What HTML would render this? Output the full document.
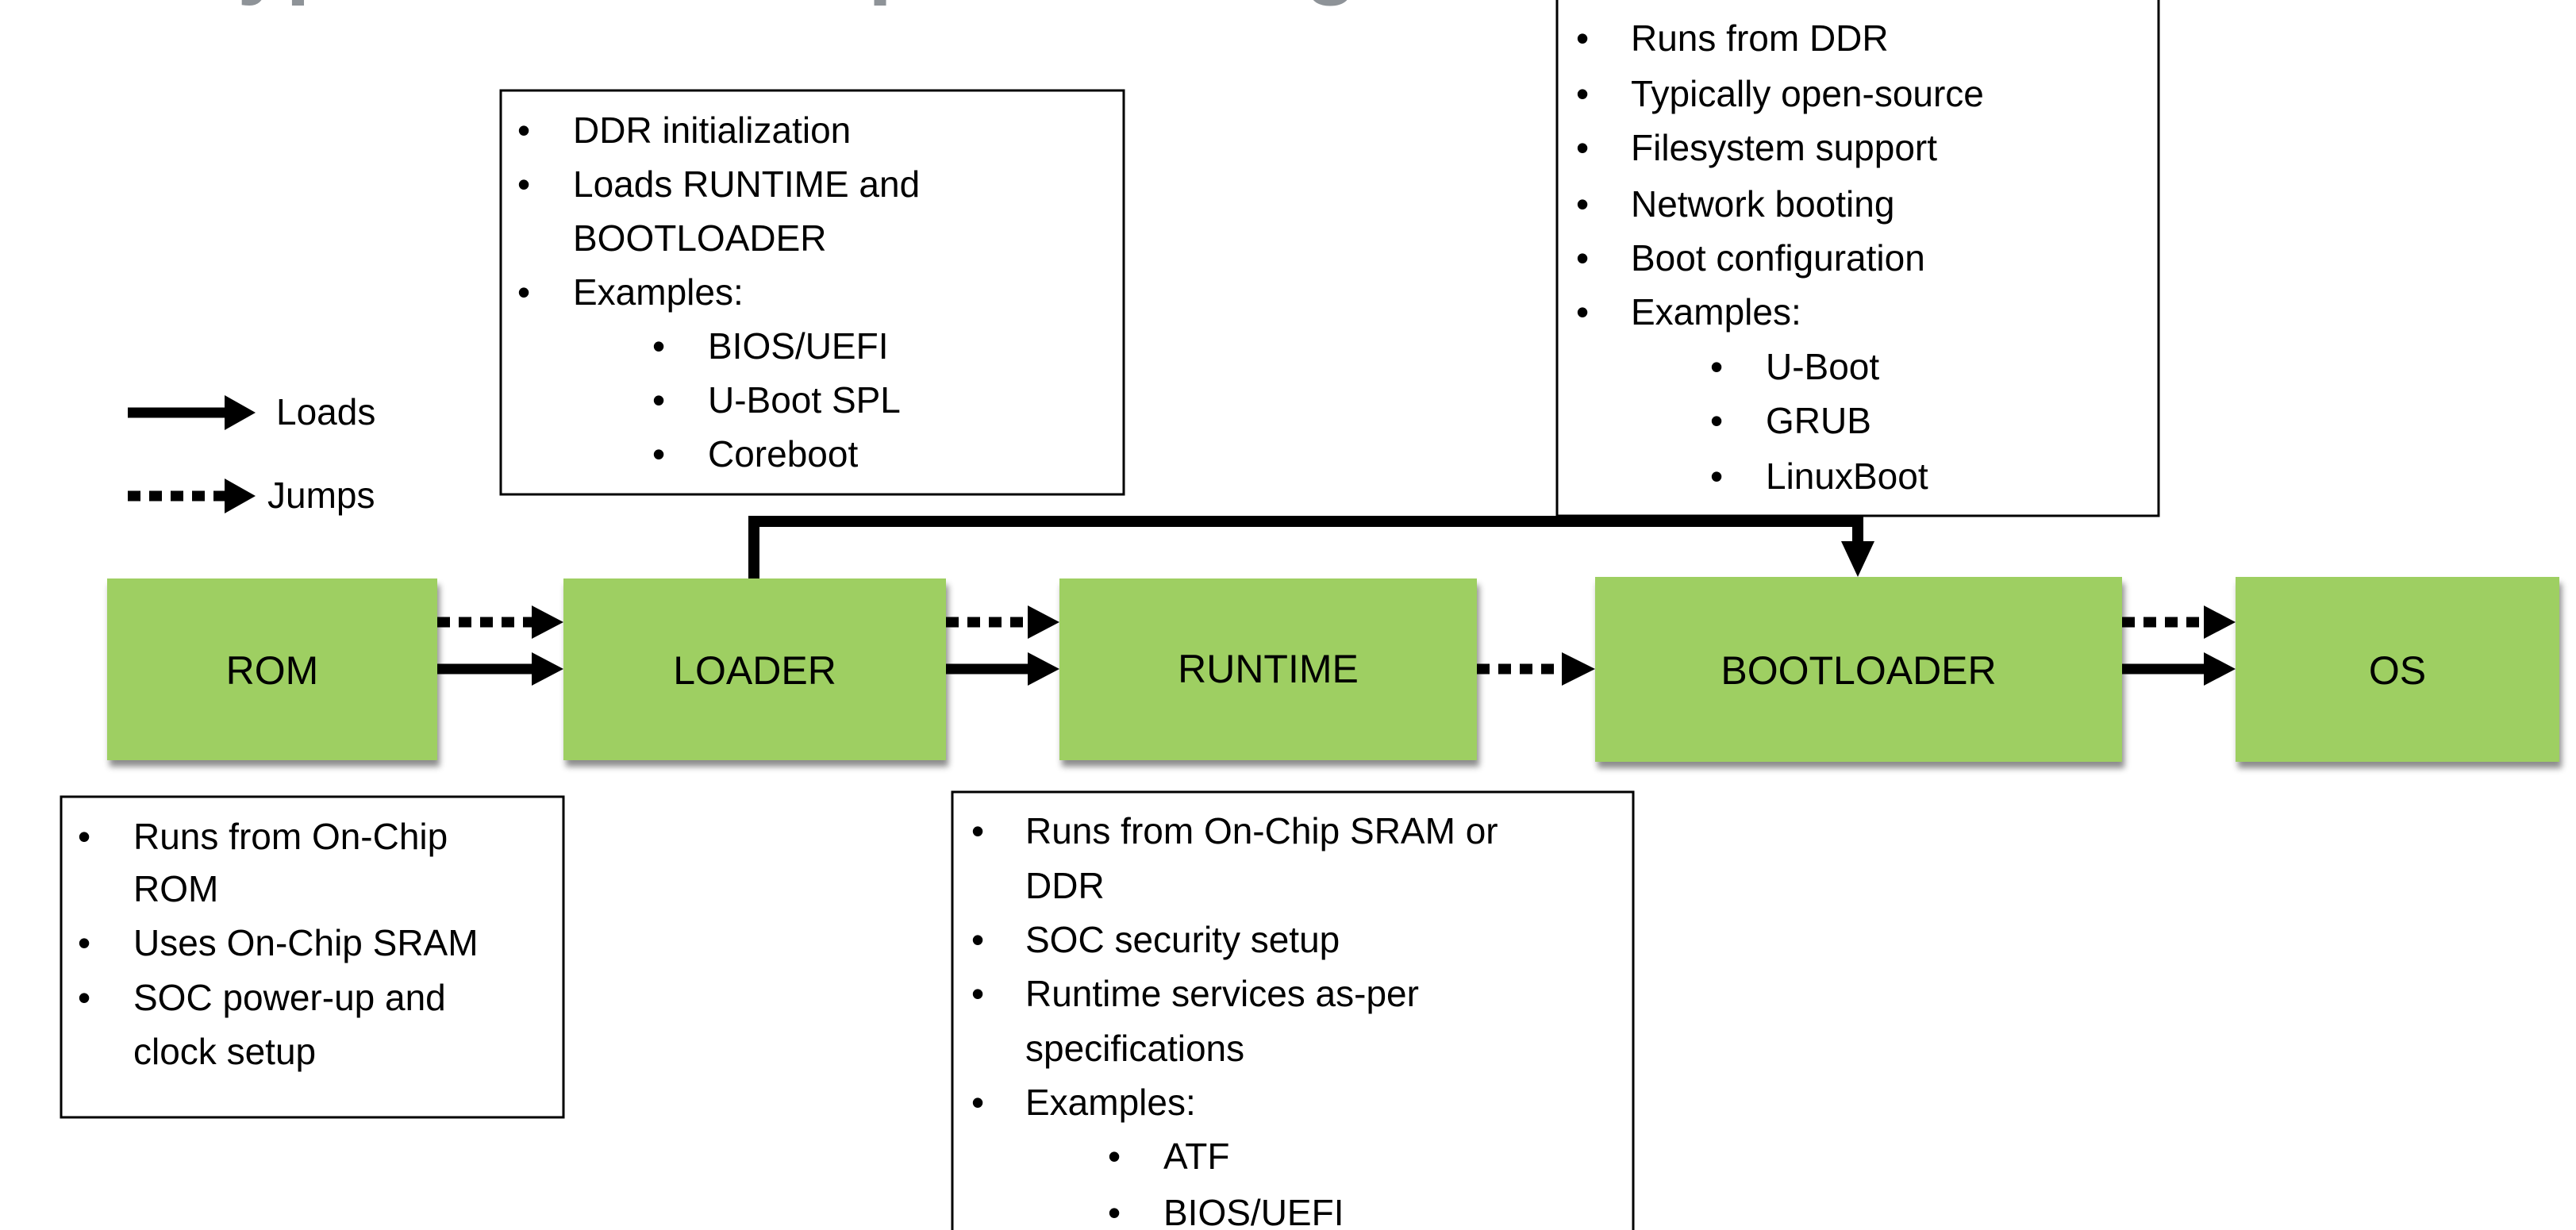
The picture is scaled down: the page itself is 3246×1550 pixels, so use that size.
<!DOCTYPE html>
<html><head><meta charset="utf-8"><style>
html,body{margin:0;padding:0;background:#fff;width:3246px;height:1550px;overflow:hidden}
svg{display:block}
text{font-family:"Liberation Sans",sans-serif;fill:#000}
</style></head><body>
<svg width="3246" height="1550" viewBox="0 0 3246 1550" xmlns="http://www.w3.org/2000/svg">
<defs>
<filter id="sh" x="-5%" y="-5%" width="115%" height="125%"><feDropShadow dx="3" dy="8" stdDeviation="4" flood-color="#000" flood-opacity="0.45"/></filter>
</defs>
<!-- clipped title -->
<text x="240" y="-16" font-size="110" font-weight="bold" style="fill:#8e9398">Typical Boot Sequence Stages: Everything</text>

<!-- green boxes -->
<g filter="url(#sh)" fill="#9ecf62">
<rect x="135" y="729" width="416" height="229"/>
<rect x="710" y="729" width="482" height="229"/>
<rect x="1335" y="729" width="526" height="229"/>
<rect x="2010" y="727" width="664" height="233"/>
<rect x="2817" y="727" width="408" height="233"/>
</g>
<g font-size="50" text-anchor="middle">
<text x="343" y="862">ROM</text>
<text x="951" y="862">LOADER</text>
<text x="1598" y="860">RUNTIME</text>
<text x="2342" y="862">BOOTLOADER</text>
<text x="3021" y="862">OS</text>
</g>

<!-- connectors -->
<g stroke="#000" fill="none">
<g stroke-width="13">
<line x1="551" y1="843" x2="672" y2="843"/>
<line x1="1192" y1="843" x2="1297" y2="843"/>
<line x1="2674" y1="843" x2="2779" y2="843"/>
<line x1="161" y1="520" x2="285" y2="520"/>
</g>
<g stroke-width="13" stroke-dasharray="16 11">
<line x1="551" y1="784" x2="672" y2="784"/>
<line x1="1192" y1="784" x2="1297" y2="784"/>
<line x1="1861" y1="843" x2="1970" y2="843"/>
<line x1="2674" y1="784" x2="2779" y2="784"/>
<line x1="161" y1="625" x2="285" y2="625"/>
</g>
<polyline points="950,729 950,657 2341,657 2341,690" stroke-width="14" stroke-linejoin="miter"/>
</g>
<g fill="#000">
<polygon points="670,822 710,843 670,864"/>
<polygon points="670,763 710,784 670,805"/>
<polygon points="1295,822 1335,843 1295,864"/>
<polygon points="1295,763 1335,784 1295,805"/>
<polygon points="1968,822 2010,843 1968,864"/>
<polygon points="2777,822 2817,843 2777,864"/>
<polygon points="2777,763 2817,784 2777,805"/>
<polygon points="2320,682 2362,682 2341,727"/>
<polygon points="283,498 322,520 283,542"/>
<polygon points="283,603 322,625 283,647"/>
</g>
<text x="348" y="535" font-size="46">Loads</text>
<text x="337" y="640" font-size="46">Jumps</text>

<!-- text boxes -->
<g fill="#fff" stroke="#000" stroke-width="3">
<rect x="631" y="114" width="785" height="509"/>
<rect x="1962" y="-5" width="758" height="655"/>
<rect x="77" y="1004" width="633" height="404"/>
<rect x="1200" y="998" width="858" height="570"/>
</g>
<g font-size="46">
<text x="652" y="180">•</text><text x="722" y="180">DDR initialization</text>
<text x="652" y="248">•</text><text x="722" y="248">Loads RUNTIME and</text>
<text x="722" y="316">BOOTLOADER</text>
<text x="652" y="384">•</text><text x="722" y="384">Examples:</text>
<text x="822" y="452">•</text><text x="892" y="452">BIOS/UEFI</text>
<text x="822" y="520">•</text><text x="892" y="520">U-Boot SPL</text>
<text x="822" y="588">•</text><text x="892" y="588">Coreboot</text>
<text x="1986" y="64">•</text><text x="2055" y="64">Runs from DDR</text>
<text x="1986" y="134">•</text><text x="2055" y="134">Typically open-source</text>
<text x="1986" y="202">•</text><text x="2055" y="202">Filesystem support</text>
<text x="1986" y="273">•</text><text x="2055" y="273">Network booting</text>
<text x="1986" y="341">•</text><text x="2055" y="341">Boot configuration</text>
<text x="1986" y="409">•</text><text x="2055" y="409">Examples:</text>
<text x="2155" y="478">•</text><text x="2225" y="478">U-Boot</text>
<text x="2155" y="546">•</text><text x="2225" y="546">GRUB</text>
<text x="2155" y="616">•</text><text x="2225" y="616">LinuxBoot</text>
<text x="98" y="1070">•</text><text x="168" y="1070">Runs from On-Chip</text>
<text x="168" y="1136">ROM</text>
<text x="98" y="1204">•</text><text x="168" y="1204">Uses On-Chip SRAM</text>
<text x="98" y="1273">•</text><text x="168" y="1273">SOC power-up and</text>
<text x="168" y="1341">clock setup</text>
<text x="1224" y="1063">•</text><text x="1292" y="1063">Runs from On-Chip SRAM or</text>
<text x="1292" y="1132">DDR</text>
<text x="1224" y="1200">•</text><text x="1292" y="1200">SOC security setup</text>
<text x="1224" y="1268">•</text><text x="1292" y="1268">Runtime services as-per</text>
<text x="1292" y="1337">specifications</text>
<text x="1224" y="1405">•</text><text x="1292" y="1405">Examples:</text>
<text x="1396" y="1473">•</text><text x="1466" y="1473">ATF</text>
<text x="1396" y="1544">•</text><text x="1466" y="1544">BIOS/UEFI</text>
</g>
</svg>
</body></html>
